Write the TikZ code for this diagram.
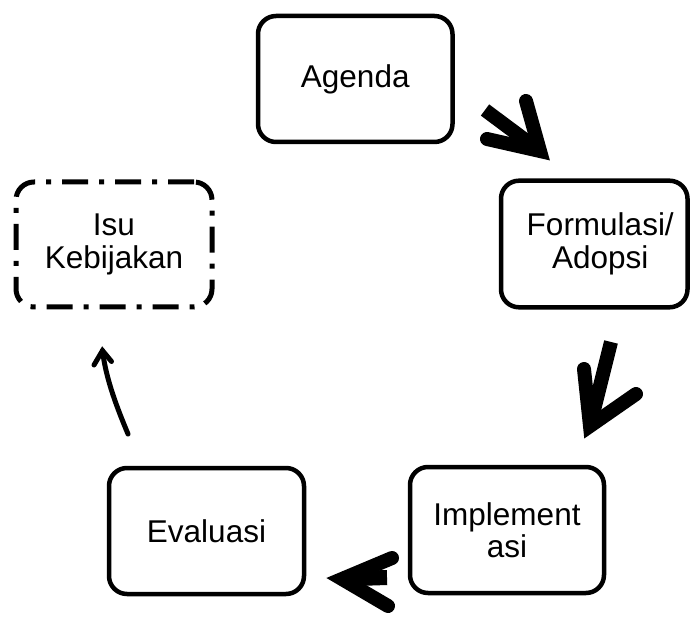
\documentclass[tikz,border=0pt]{standalone}
\usepackage{fontspec}
\setmainfont{Liberation Sans}
\begin{document}
\begin{tikzpicture}[x=1pt,y=-1pt,
  box/.style={draw, line width=4.5pt, rounded corners=18pt, align=center,
    font=\fontsize{31.5}{32.5}\selectfont, inner sep=0pt},
  dashbox/.style={box, line width=5pt, dash pattern=on 26pt off 11pt on 5pt off 11pt},
  barbs/.style={line width=14pt, line cap=round, line join=miter},
  shaft/.style={line width=14pt, line cap=butt},
  thinarrow/.style={line width=5pt, line cap=round, line join=miter}]
\useasboundingbox (0,0) rectangle (690,617);

\node[box, minimum width=194.5pt, minimum height=126pt] (ag) at (355.25,79) {Agenda};
\node[box, minimum width=186.5pt, minimum height=126.6pt] (fo) at (594.25,244) {\hspace*{12pt}Formulasi/\\\hspace*{12pt}Adopsi};
\node[box, minimum width=194pt, minimum height=126pt] (im) at (507,530) {Implement\\asi};
\node[box, minimum width=195pt, minimum height=126pt] (ev) at (206.5,531) {Evaluasi};
\node[dashbox, minimum width=196pt, minimum height=125pt] (is) at (114,244.5) {Isu\\Kebijakan};

% Agenda -> Formulasi
\coordinate (a1s) at (485,110);
\coordinate (a1v) at (540,151);
\coordinate (a1p) at (526,101);
\coordinate (a1q) at (487,139);
\draw[shaft] (a1s) -- (a1v);
\draw[barbs] (a1p) -- (a1v) -- (a1q);

% Formulasi -> Implementasi
\coordinate (a2s) at (611,342);
\coordinate (a2v) at (590,426);
\coordinate (a2p) at (584,369);
\coordinate (a2q) at (636,394);
\draw[shaft] (a2s) -- (a2v);
\draw[barbs] (a2p) -- (a2v) -- (a2q);

% Implementasi -> Evaluasi
\coordinate (a3s) at (387,577.5);
\coordinate (a3v) at (342,579);
\coordinate (a3p) at (392,558);
\coordinate (a3q) at (388,606);
\draw[shaft, line width=15pt] (a3s) -- (a3v);
\draw[barbs] (a3p) -- (a3v) -- (a3q);

% Evaluasi -> Isu Kebijakan
\coordinate (a4s) at (128,434);
\coordinate (a4v) at (102.5,350.6);
\coordinate (a4p) at (94,365);
\coordinate (a4q) at (111.5,361.5);
\draw[thinarrow] (a4s) .. controls (118,410) and (106,380) .. (a4v);
\draw[thinarrow] (a4p) -- (a4v) -- (a4q);
\end{tikzpicture}
\end{document}
